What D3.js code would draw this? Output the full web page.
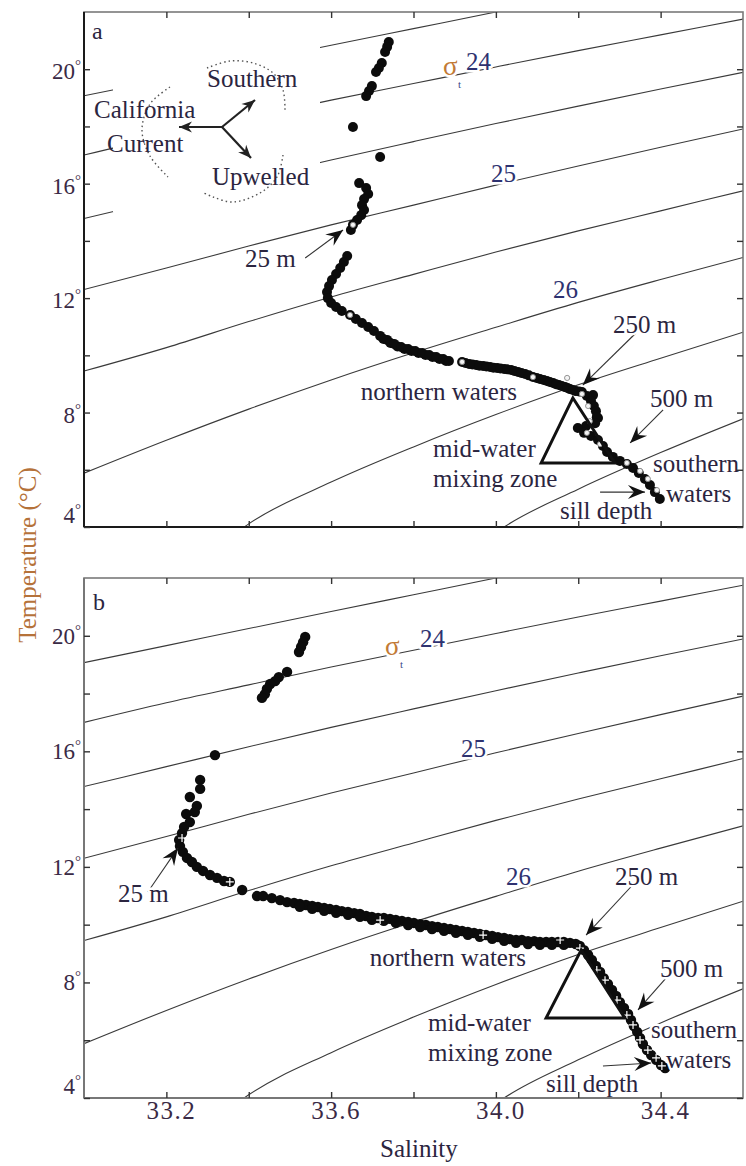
<!DOCTYPE html>
<html>
<head>
<meta charset="utf-8">
<script src="https://cdn.jsdelivr.net/npm/d3@7"></script>
<style>
  html, body { margin: 0; padding: 0; background: #fff; }
  svg { display: block; }
  svg text { font-family: "Liberation Serif", "DejaVu Serif", "Times New Roman", serif; }
</style>
</head>
<body>
<svg id="chart" width="746" height="1166"></svg>
<script>
// ---- Axis ticks -------------------------------------------------------
const salinityTicks = [33.2, 33.4, 33.6, 33.8, 34.0, 34.2, 34.4];
const salinityLabels = [33.2, 33.6, 34.0, 34.4];
const temperatureTicks = [4, 6, 8, 10, 12, 14, 16, 18, 20];
const temperatureLabels = [4, 8, 12, 16, 20];

// ---- Isopycnals (sigma-t), [salinity, temperature] --------------------
const iso23_5 = [[33.0, 19.07], [33.2, 19.66], [33.4, 20.25], [33.6, 20.84], [33.8, 21.42], [34.0, 22.0], [34.1, 22.3]];
const iso24_0 = [[33.0, 17.0], [33.2, 17.68], [33.4, 18.3], [33.6, 18.92], [33.8, 19.5], [34.0, 20.08], [34.2, 20.65], [34.4, 21.2], [34.6, 21.75]];
const iso24_5 = [[33.0, 14.78], [33.2, 15.47], [33.4, 16.16], [33.6, 16.83], [33.8, 17.47], [34.0, 18.1], [34.2, 18.71], [34.4, 19.31], [34.6, 19.89]];
const iso25_0 = [[33.0, 12.3], [33.2, 13.05], [33.4, 13.82], [33.6, 14.56], [33.8, 15.25], [34.0, 15.95], [34.2, 16.62], [34.4, 17.27], [34.6, 17.91]];
const iso25_5 = [[33.0, 9.45], [33.2, 10.27], [33.4, 11.18], [33.6, 12.04], [33.8, 12.83], [34.0, 13.61], [34.2, 14.35], [34.4, 15.05], [34.6, 15.75]];
const iso26_0 = [[33.0, 5.88], [33.2, 7.03], [33.4, 8.12], [33.6, 9.14], [33.8, 10.09], [34.0, 10.98], [34.2, 11.85], [34.4, 12.65], [34.6, 13.42]];
const iso26_5 = [[33.35, 3.6], [33.4, 4.11], [33.6, 5.57], [33.8, 6.8], [34.0, 7.93], [34.2, 8.97], [34.4, 9.9], [34.6, 10.81]];
const iso27_0 = [[33.98, 3.6], [34.02, 4.0], [34.2, 5.32], [34.4, 6.6], [34.6, 7.78]];

// ---- Panel a: T–S profile [salinity, temperature] ---------------------
const profileA = [
  [33.740, 20.95], [33.736, 20.78], [33.731, 20.60], [33.723, 20.22], [33.716, 20.04], [33.709, 19.90],
  [33.699, 19.41], [33.692, 19.24], [33.685, 19.06], [33.653, 17.98], [33.719, 16.93],
  [33.668, 16.02], [33.685, 15.85], [33.690, 15.64], [33.680, 15.46], [33.675, 15.25], [33.680, 15.08],
  [33.673, 14.90], [33.663, 14.73], [33.653, 14.56], [33.648, 14.38],
  [33.639, 13.47], [33.631, 13.26], [33.622, 13.05], [33.612, 12.84], [33.602, 12.63], [33.595, 12.42],
  [33.590, 12.21], [33.592, 12.00], [33.600, 11.83], [33.612, 11.69], [33.626, 11.55], [33.646, 11.41],
  [33.660, 11.27], [33.675, 11.13], [33.690, 10.99], [33.704, 10.85], [33.719, 10.68], [33.736, 10.54],
  [33.727, 10.57], [33.744, 10.43], [33.761, 10.31], [33.778, 10.22], [33.795, 10.15], [33.812, 10.08],
  [33.829, 10.01], [33.846, 9.94], [33.863, 9.87], [33.879, 9.80],
  [33.753, 10.40], [33.770, 10.29], [33.787, 10.22], [33.804, 10.15], [33.821, 10.08], [33.838, 10.01],
  [33.855, 9.94], [33.872, 9.87], [33.886, 9.80],
  [33.918, 9.77], [33.935, 9.70], [33.952, 9.66], [33.969, 9.63], [33.986, 9.59], [34.003, 9.56],
  [34.020, 9.52], [34.037, 9.49], [34.054, 9.42], [34.071, 9.35], [34.090, 9.24], [34.107, 9.17],
  [34.124, 9.10], [34.139, 9.03], [34.153, 8.96], [34.168, 8.89], [34.180, 8.82], [34.194, 8.75],
  [33.926, 9.73], [33.943, 9.68], [33.960, 9.64], [33.977, 9.61], [33.994, 9.57], [34.011, 9.54],
  [34.028, 9.51], [34.045, 9.45], [34.062, 9.38], [34.080, 9.30], [34.099, 9.21], [34.116, 9.14],
  [34.131, 9.07], [34.146, 8.99], [34.160, 8.93], [34.174, 8.86], [34.187, 8.79], [34.202, 8.74],
  [34.209, 8.72], [34.236, 8.61], [34.221, 8.58], [34.231, 8.40], [34.238, 8.23], [34.243, 8.05],
  [34.248, 7.81], [34.245, 7.84], [34.241, 7.63], [34.219, 7.53], [34.199, 7.46], [34.214, 7.29],
  [34.231, 7.18], [34.248, 7.04], [34.260, 6.83], [34.270, 6.62], [34.284, 6.45], [34.301, 6.31],
  [34.318, 6.20], [34.333, 6.06], [34.347, 5.89], [34.362, 5.68], [34.374, 5.47], [34.386, 5.22],
  [34.398, 4.98]
];
// depth markers drawn as open circles
const profileAMarks = [
  [33.653, 14.56], [33.646, 11.41], [33.918, 9.77], [34.090, 9.24], [34.173, 9.21], [34.209, 8.65],
  [34.224, 8.23], [34.228, 7.70], [34.221, 7.29], [34.253, 6.90], [34.318, 6.24], [34.350, 5.96],
  [34.369, 5.68], [34.391, 5.29]
];

// ---- Panel b: T–S profile ---------------------------------------------
const profileB = [
  [33.537, 19.96], [33.532, 19.78], [33.527, 19.61], [33.522, 19.44], [33.493, 18.75], [33.473, 18.57],
  [33.464, 18.43], [33.452, 18.33], [33.444, 18.16], [33.439, 17.98], [33.432, 17.85],
  [33.318, 15.87], [33.282, 15.01], [33.282, 14.70], [33.257, 14.42], [33.274, 14.11], [33.269, 13.90],
  [33.248, 13.83], [33.257, 13.55], [33.243, 13.38], [33.238, 13.17], [33.231, 12.93], [33.233, 12.72],
  [33.240, 12.52], [33.250, 12.31], [33.262, 12.17], [33.274, 12.00], [33.289, 11.86], [33.306, 11.72],
  [33.323, 11.62], [33.340, 11.51], [33.354, 11.48], [33.384, 11.20], [33.420, 10.99], [33.435, 10.99],
  [33.456, 10.92], [33.476, 10.85], [33.493, 10.78], [33.510, 10.75], [33.524, 10.72], [33.539, 10.68],
  [33.554, 10.65], [33.568, 10.61], [33.583, 10.58], [33.597, 10.54], [33.612, 10.51], [33.626, 10.47],
  [33.641, 10.44], [33.656, 10.40], [33.670, 10.37], [33.685, 10.30], [33.699, 10.27], [33.714, 10.23],
  [33.728, 10.23], [33.743, 10.20], [33.757, 10.16], [33.772, 10.13], [33.787, 10.09], [33.801, 10.06],
  [33.816, 10.02], [33.830, 9.99], [33.845, 9.95], [33.859, 9.92], [33.874, 9.89], [33.889, 9.85],
  [33.903, 9.82], [33.918, 9.78], [33.932, 9.75], [33.947, 9.71], [33.961, 9.68], [33.976, 9.64],
  [33.991, 9.61], [34.005, 9.57], [34.020, 9.54], [34.034, 9.50], [34.049, 9.47], [34.063, 9.47],
  [34.078, 9.43], [34.093, 9.43], [34.107, 9.40], [34.122, 9.40], [34.136, 9.40], [34.151, 9.40],
  [34.165, 9.40], [34.180, 9.37], [34.194, 9.33], [34.204, 9.26], [34.214, 9.12], [34.224, 8.95],
  [34.233, 8.78], [34.243, 8.57], [34.253, 8.36], [34.262, 8.15], [34.272, 7.95], [34.282, 7.74],
  [34.292, 7.53], [34.301, 7.32], [34.311, 7.12], [34.321, 6.91], [34.328, 6.70], [34.335, 6.49],
  [34.343, 6.29], [34.350, 6.08], [34.357, 5.87], [34.367, 5.66], [34.377, 5.49], [34.389, 5.32],
  [34.401, 5.14], [34.411, 5.04],
  // lower edge of the northern-water band
  [33.524, 10.62], [33.554, 10.55], [33.583, 10.48], [33.612, 10.41], [33.641, 10.34], [33.670, 10.27],
  [33.699, 10.17], [33.728, 10.13], [33.757, 10.06], [33.787, 9.99], [33.816, 9.92], [33.845, 9.85],
  [33.874, 9.79], [33.903, 9.72], [33.932, 9.65], [33.961, 9.58], [33.991, 9.51], [34.020, 9.44],
  [34.049, 9.37], [34.078, 9.33], [34.107, 9.30], [34.136, 9.30], [34.165, 9.30]
];
// depth markers drawn as crosses
const profileBMarks = [
  [33.238, 13.00], [33.354, 11.48], [33.719, 10.16], [33.969, 9.64], [34.156, 9.47], [34.204, 9.19],
  [34.245, 8.43], [34.265, 8.08], [34.294, 7.39], [34.318, 6.87], [34.333, 6.53], [34.350, 6.01],
  [34.369, 5.66], [34.389, 5.39], [34.403, 5.11]
];

// ---- Annotation geometry (salinity, temperature) -----------------------
const triangleA = [[34.187, 8.51], [34.110, 6.24], [34.289, 6.24]];
const triangleB = [[34.207, 9.12], [34.122, 6.77], [34.313, 6.77]];
const arrowsA = [
  { from: [33.537, 13.40], to: [33.629, 14.38] },
  { from: [34.340, 10.78], to: [34.211, 8.96] },
  { from: [34.406, 8.09], to: [34.326, 6.94] },
  { from: [34.253, 5.22], to: [34.362, 5.22] }
];
const arrowsB = [
  { from: [33.155, 11.13], to: [33.228, 12.65] },
  { from: [34.350, 11.65], to: [34.219, 9.64] },
  { from: [34.413, 8.15], to: [34.345, 7.05] },
  { from: [34.260, 5.11], to: [34.377, 5.21] }
];

const isopycnals = [iso23_5, iso24_0, iso24_5, iso25_0, iso25_5, iso26_0, iso26_5, iso27_0];

const SERIF = '"Liberation Serif", "DejaVu Serif", "Times New Roman", serif';
const TEXT = "#2b2540";
const svg = d3.select("#chart").attr("font-family", SERIF);
const left = 84, right = 743;
const x = d3.scaleLinear().domain([33.0, 34.6]).range([left, right]);

// filled arrowhead polygon pointing at `tip`
function headPath(tip, from, L, W, N) {
  const dx = tip[0] - from[0], dy = tip[1] - from[1];
  const len = Math.hypot(dx, dy);
  const ux = dx / len, uy = dy / len, nx = -uy, ny = ux;
  const bx = tip[0] - ux * L, by = tip[1] - uy * L;
  return `M${tip[0]},${tip[1]}L${bx + nx * W},${by + ny * W}L${tip[0] - ux * N},${tip[1] - uy * N}L${bx - nx * W},${by - ny * W}Z`;
}

function label(g, txt, px, py, opts = {}) {
  const t = g.append("text")
    .attr("x", px).attr("y", py)
    .attr("font-family", SERIF)
    .attr("font-size", opts.size || 25)
    .attr("fill", opts.fill || TEXT)
    .attr("text-anchor", opts.anchor || "start")
    .text(txt);
  if (opts.halo !== false) {
    t.attr("stroke", "#fff").attr("stroke-width", 5).attr("stroke-linejoin", "round")
     .attr("paint-order", "stroke");
  }
  return t;
}

function panel(cfg) {
  const y = d3.scaleLinear().domain([4, 22]).range([cfg.bottom, cfg.top]);
  const g = svg.append("g");
  const clipId = "clip-" + cfg.name;
  svg.append("clipPath").attr("id", clipId)
    .append("rect").attr("x", left).attr("y", cfg.top)
    .attr("width", right - left).attr("height", cfg.bottom - cfg.top);

  // isopycnal contours
  const line = d3.line().x(d => x(d[0])).y(d => y(d[1])).curve(d3.curveMonotoneX);
  g.append("g").attr("clip-path", `url(#${clipId})`)
    .selectAll("path").data(isopycnals).join("path")
    .attr("d", line).attr("fill", "none")
    .attr("stroke", "#3a3a3a").attr("stroke-width", 1.1);

  if (cfg.inset) cfg.inset(g);

  // contour labels
  cfg.sigma.forEach(s => {
    if (s.kind === "sigma") {
      label(g, "σ", s.x, s.y, { size: 27, fill: "#c27a35" });
      label(g, "t", s.x + 15, s.y + 13, { size: 11, fill: "#3b4b8a" });
    } else {
      label(g, s.t, s.x, s.y, { fill: "#2e3270" });
    }
  });

  // profile dots
  const dots = g.append("g").attr("clip-path", `url(#${clipId})`);
  dots.selectAll("circle").data(cfg.profile).join("circle")
    .attr("cx", d => x(d[0])).attr("cy", d => y(d[1]))
    .attr("r", cfg.r).attr("fill", "#0c0c0c");

  if (cfg.markStyle === "ring") {
    dots.append("g").selectAll("circle").data(cfg.marks).join("circle")
      .attr("cx", d => x(d[0])).attr("cy", d => y(d[1]))
      .attr("r", 2.6).attr("fill", "#f4f4f4").attr("stroke", "#888").attr("stroke-width", 0.9);
  } else {
    dots.append("g").selectAll("path").data(cfg.marks).join("path")
      .attr("d", d => {
        const cx = x(d[0]), cy = y(d[1]);
        return `M${cx - 4},${cy}H${cx + 4}M${cx},${cy - 4}V${cy + 4}`;
      })
      .attr("stroke", "#fff").attr("stroke-width", 1.2);
  }

  // mixing-zone triangle
  g.append("path")
    .attr("d", "M" + cfg.triangle.map(d => `${x(d[0])},${y(d[1])}`).join("L") + "Z")
    .attr("fill", "none").attr("stroke", "#111").attr("stroke-width", 3)
    .attr("stroke-linejoin", "miter");

  // pointer arrows
  cfg.arrows.forEach(a => {
    const p0 = [x(a.from[0]), y(a.from[1])], p1 = [x(a.to[0]), y(a.to[1])];
    g.append("line").attr("x1", p0[0]).attr("y1", p0[1]).attr("x2", p1[0]).attr("y2", p1[1])
      .attr("stroke", "#333").attr("stroke-width", 1.1);
    g.append("path").attr("d", headPath(p1, p0, 17, 7, 11)).attr("fill", "#111");
  });

  // annotation text
  cfg.notes.forEach(n => label(g, n.t, n.x, n.y, { anchor: n.anchor, size: n.size }));

  // frame
  g.append("rect").attr("x", left).attr("y", cfg.top)
    .attr("width", right - left).attr("height", cfg.bottom - cfg.top)
    .attr("fill", "none").attr("stroke", "#7a7a7a").attr("stroke-width", 1.6);
  g.append("line").attr("x1", left).attr("x2", left).attr("y1", cfg.top).attr("y2", cfg.bottom)
    .attr("stroke", cfg.leftAxis).attr("stroke-width", 2);
  g.append("line").attr("x1", left).attr("x2", right).attr("y1", cfg.bottom).attr("y2", cfg.bottom)
    .attr("stroke", cfg.leftAxis).attr("stroke-width", 2);

  // inward ticks on all four sides
  const tickStyle = sel => {
    sel.select(".domain").remove();
    sel.selectAll(".tick line").attr("stroke", "#333").attr("stroke-width", 1.4);
  };
  g.append("g").attr("transform", `translate(0,${cfg.bottom})`)
    .call(d3.axisBottom(x).tickValues(salinityTicks).tickSize(-6).tickFormat("")).call(tickStyle);
  g.append("g").attr("transform", `translate(0,${cfg.top})`)
    .call(d3.axisTop(x).tickValues(salinityTicks).tickSize(-6).tickFormat("")).call(tickStyle);
  g.append("g").attr("transform", `translate(${left},0)`)
    .call(d3.axisLeft(y).tickValues(temperatureTicks).tickSize(-6).tickFormat("")).call(tickStyle);
  g.append("g").attr("transform", `translate(${right},0)`)
    .call(d3.axisRight(y).tickValues(temperatureTicks).tickSize(-6).tickFormat("")).call(tickStyle);

  // temperature tick labels with degree sign
  temperatureLabels.forEach(v => {
    const base = v === 4 ? y(v) - 4 : y(v) + cfg.labelShift;
    const t = g.append("text").attr("x", 81).attr("y", base).attr("font-family", SERIF)
      .attr("text-anchor", "end").attr("font-size", 23).attr("fill", "#3a2a45");
    t.append("tspan").text(v);
    t.append("tspan").attr("font-size", 15).attr("dy", -9).text("°");
  });

  if (cfg.salinityLabels) {
    g.selectAll(".slab").data(salinityLabels).join("text")
      .attr("x", d => x(d) + 5).attr("y", cfg.bottom + 21).attr("font-family", SERIF)
      .attr("text-anchor", "middle").attr("font-size", 25).attr("letter-spacing", 1.5)
      .attr("fill", "#3a2a45").text(d => d.toFixed(1));
  }
}

// schematic of the three source waters (panel a)
function insetA(g) {
  g.append("rect").attr("x", 113).attr("y", 30).attr("width", 207).attr("height", 182).attr("fill", "#fff");
  const dotted = d3.line().curve(d3.curveCatmullRom);
  const arcs = [
    [[170, 87], [150, 104], [142, 130], [150, 156], [168, 177]],
    [[207, 68], [230, 61], [253, 63], [273, 73], [283, 90], [285, 110]],
    [[283, 155], [277, 177], [260, 193], [233, 202], [213, 197], [202, 192]]
  ];
  g.selectAll(".arc").data(arcs).join("path").attr("class", "arc")
    .attr("d", dotted).attr("fill", "none").attr("stroke", "#555")
    .attr("stroke-width", 1.4).attr("stroke-dasharray", "1.5,3");
  const c = [222, 127];
  [[179, 127], [255, 100], [251, 158]].forEach(tip => {
    g.append("line").attr("x1", c[0]).attr("y1", c[1]).attr("x2", tip[0]).attr("y2", tip[1])
      .attr("stroke", "#222").attr("stroke-width", 2.2);
    g.append("path").attr("d", headPath(tip, c, 13, 5.5, 9)).attr("fill", "#222");
  });
  label(g, "Southern", 207, 87, { halo: false });
  label(g, "California", 94, 118, { halo: false });
  label(g, "Current", 107, 152, { halo: false });
  label(g, "Upwelled", 212, 185, { halo: false });
}

panel({
  name: "a", top: 12, bottom: 527, r: 5, leftAxis: "#1a1a1a", labelShift: 10,
  profile: profileA, marks: profileAMarks, markStyle: "ring",
  triangle: triangleA, arrows: arrowsA, inset: insetA, salinityLabels: false,
  sigma: [
    { kind: "sigma", x: 443, y: 75 },
    { t: "24", x: 466, y: 70 },
    { t: "25", x: 491, y: 182 },
    { t: "26", x: 553, y: 298 }
  ],
  notes: [
    { t: "a", x: 92, y: 39, size: 24 },
    { t: "25 m", x: 245, y: 267 },
    { t: "250 m", x: 613, y: 333 },
    { t: "500 m", x: 650, y: 407 },
    { t: "northern waters", x: 517, y: 400, anchor: "end" },
    { t: "mid-water", x: 433, y: 457 },
    { t: "mixing zone", x: 433, y: 487 },
    { t: "southern", x: 653, y: 472 },
    { t: "waters", x: 666, y: 502 },
    { t: "sill depth", x: 560, y: 519 }
  ]
});

panel({
  name: "b", top: 578, bottom: 1098, r: 5.2, leftAxis: "#777", labelShift: 8,
  profile: profileB, marks: profileBMarks, markStyle: "cross",
  triangle: triangleB, arrows: arrowsB, salinityLabels: true,
  sigma: [
    { kind: "sigma", x: 385, y: 655 },
    { t: "24", x: 420, y: 647 },
    { t: "25", x: 461, y: 757 },
    { t: "26", x: 506, y: 885 }
  ],
  notes: [
    { t: "b", x: 93, y: 610, size: 24 },
    { t: "25 m", x: 118, y: 902 },
    { t: "250 m", x: 615, y: 885 },
    { t: "500 m", x: 660, y: 977 },
    { t: "northern waters", x: 526, y: 966, anchor: "end" },
    { t: "mid-water", x: 428, y: 1031 },
    { t: "mixing zone", x: 428, y: 1061 },
    { t: "southern", x: 651, y: 1038 },
    { t: "waters", x: 666, y: 1068 },
    { t: "sill depth", x: 546, y: 1092 }
  ]
});

// axis titles
svg.append("text")
  .attr("transform", "translate(36,555) rotate(-90)").attr("font-family", SERIF)
  .attr("text-anchor", "middle").attr("font-size", 25).attr("fill", "#b5723a")
  .text("Temperature (°C)");
svg.append("text")
  .attr("x", 380).attr("y", 1157).attr("font-family", SERIF).attr("font-size", 25).attr("fill", TEXT)
  .text("Salinity");
</script>
</body>
</html>
